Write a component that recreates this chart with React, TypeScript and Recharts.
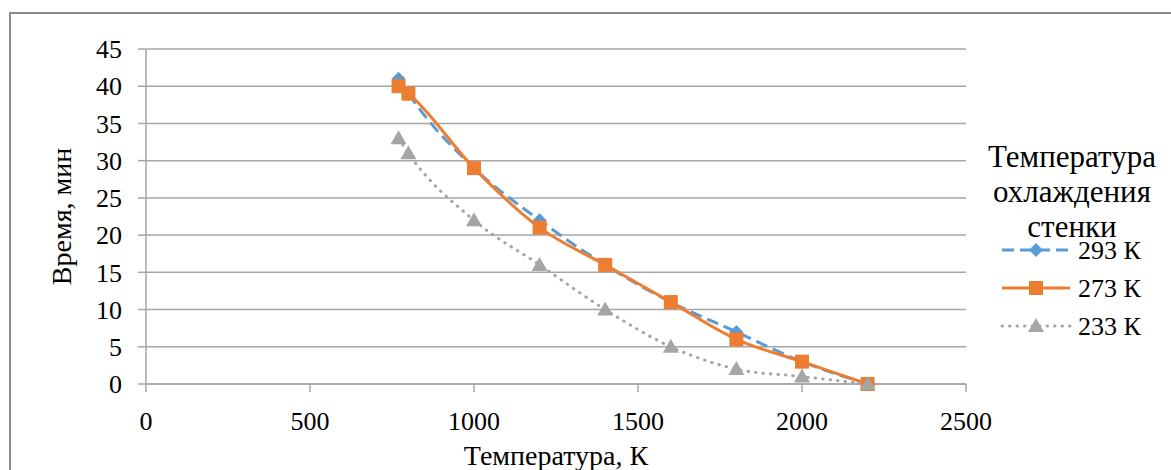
import { LineChart, Line, XAxis, YAxis, CartesianGrid } from 'recharts';

const temps = [770, 800, 1000, 1200, 1400, 1600, 1800, 2000, 2200];
const time293 = [41, 39, 29, 22, 16, 11, 7, 3, 0];
const time273 = [40, 39, 29, 21, 16, 11, 6, 3, 0];
const time233 = [33, 31, 22, 16, 10, 5, 2, 1, 0];
const xTicks = [0, 500, 1000, 1500, 2000, 2500];
const yTicks = [0, 5, 10, 15, 20, 25, 30, 35, 40, 45];
const legendTitle = ['Температура', 'охлаждения', 'стенки'];

const data = temps.map((t, i) => ({
  t,
  k293: time293[i],
  k273: time273[i],
  k233: time233[i],
}));

const FONT = '"Liberation Serif", "Times New Roman", serif';
const GRID = '#a6a6a6';

const series = [
  { key: 'k293', name: '293 К', color: '#5b9bd5', dash: '12 6', shape: 'diamond' },
  { key: 'k273', name: '273 К', color: '#ed7d31', dash: undefined, shape: 'square' },
  { key: 'k233', name: '233 К', color: '#a5a5a5', dash: '0.5 7', shape: 'triangle' },
];

function Marker({ cx, cy, shape, color }: any) {
  if (cx == null || cy == null) return null;
  if (shape === 'diamond') {
    const r = 7;
    return <polygon points={`${cx},${cy - r} ${cx + r},${cy} ${cx},${cy + r} ${cx - r},${cy}`} fill={color} />;
  }
  if (shape === 'square') {
    const r = 7;
    return <rect x={cx - r} y={cy - r} width={2 * r} height={2 * r} fill={color} />;
  }
  const r = 8;
  return <polygon points={`${cx},${cy - r} ${cx + r},${cy + r * 0.75} ${cx - r},${cy + r * 0.75}`} fill={color} />;
}

// legend drawn as an overlay to the right of the plot
function LegendBox() {
  return (
    <svg width={211} height={230} style={{ position: 'absolute', left: 960, top: 130 }}>
      {legendTitle.map((line, i) => (
        <text key={line} x={112} y={37 + i * 35} textAnchor="middle" fontFamily={FONT} fontSize={31} fill="#000">
          {line}
        </text>
      ))}
      {series.map((s, i) => {
        const y = 120 + i * 38;
        return (
          <g key={s.key}>
            <line
              x1={42}
              y1={y}
              x2={110}
              y2={y}
              stroke={s.color}
              strokeWidth={3}
              strokeDasharray={s.dash}
              strokeLinecap={s.shape === 'triangle' ? 'round' : 'butt'}
            />
            <Marker cx={76} cy={y} shape={s.shape} color={s.color} />
            <text x={118} y={y + 9} fontFamily={FONT} fontSize={26} fill="#000">
              {s.name}
            </text>
          </g>
        );
      })}
    </svg>
  );
}

export default function App() {
  return (
    <div style={{ position: 'fixed', left: 0, top: 0, width: 1171, height: 470, background: '#fff', overflow: 'hidden' }}>
      <div
        style={{
          position: 'absolute',
          left: 9,
          top: 12,
          width: 1200,
          height: 500,
          borderTop: '2px solid #8c8c8c',
          borderLeft: '2px solid #8c8c8c',
          boxSizing: 'border-box',
        }}
      />
      <LineChart
        width={1171}
        height={470}
        data={data}
        margin={{ top: 49, right: 205, left: 0, bottom: 0 }}
        style={{ position: 'absolute', left: 0, top: 0 }}
      >
        <CartesianGrid vertical={false} stroke={GRID} strokeWidth={1.5} />
        <XAxis
          dataKey="t"
          type="number"
          domain={[0, 2500]}
          ticks={xTicks}
          height={86}
          tickSize={8}
          tickMargin={20}
          axisLine={{ stroke: GRID, strokeWidth: 1.5 }}
          tickLine={{ stroke: GRID, strokeWidth: 1.5 }}
          tick={{ fill: '#000', fontSize: 26, fontFamily: FONT }}
          label={{
            value: 'Температура, К',
            position: 'insideBottom',
            offset: 5,
            fill: '#000',
            fontSize: 28,
            fontFamily: FONT,
          }}
        />
        <YAxis
          type="number"
          domain={[0, 45]}
          ticks={yTicks}
          width={146}
          tickSize={8}
          tickMargin={16}
          axisLine={{ stroke: GRID, strokeWidth: 1.5 }}
          tickLine={{ stroke: GRID, strokeWidth: 1.5 }}
          tick={{ fill: '#000', fontSize: 26, fontFamily: FONT }}
          label={{
            value: 'Время, мин',
            angle: -90,
            position: 'insideLeft',
            offset: 61,
            fill: '#000',
            fontSize: 28,
            fontFamily: FONT,
            style: { textAnchor: 'middle' },
          }}
        />
        {series.map((s) => (
          <Line
            key={s.key}
            type="monotone"
            dataKey={s.key}
            name={s.name}
            stroke={s.color}
            strokeWidth={3}
            strokeDasharray={s.dash}
            strokeLinecap={s.shape === 'triangle' ? 'round' : 'butt'}
            dot={(p: any) => <Marker key={`${s.key}-${p.index}`} cx={p.cx} cy={p.cy} shape={s.shape} color={s.color} />}
            activeDot={false}
            isAnimationActive={false}
          />
        ))}
      </LineChart>
      <LegendBox />
    </div>
  );
}
